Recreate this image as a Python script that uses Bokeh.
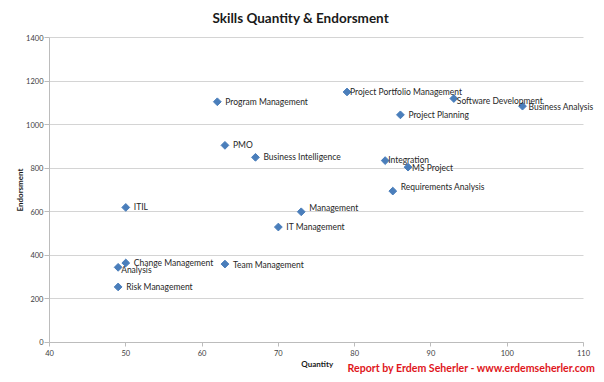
import math
from bokeh.plotting import figure
from bokeh.models import ColumnDataSource, LabelSet, Label, Title, FixedTicker, Range1d
from bokeh.core.properties import value
from bokeh.embed import file_html
from bokeh.resources import INLINE

skills = ["Program Management", "Project Portfolio Management", "Software Development",
          "Business Analysis", "Project Planning", "PMO", "Business Intelligence",
          "Integration", "MS Project", "Requirements Analysis", "ITIL", "Management",
          "IT Management", "Change Management", "Analysis", "Team Management",
          "Risk Management"]
quantity = [62, 79, 93, 102, 86, 63, 67, 84, 87, 85, 50, 73, 70, 50, 49, 63, 49]
endorsement = [1105, 1150, 1120, 1085, 1045, 905, 850, 835, 805, 695, 620, 600, 530,
               365, 345, 360, 255]
x_ticks = [40, 50, 60, 70, 80, 90, 100, 110]
y_ticks = [0, 200, 400, 600, 800, 1000, 1200, 1400]

# label placement (pixels): right shift, and downward shift
label_dx = [8, 3, 3, 6, 8, 8, 8, 3, 4, 8, 8, 8, 8, 8, 3, 8, 8]
label_dy = [0, 0, 2, 1, 0, 0, 0, -1, 1, -4, 0, -4, 0, 0, 3, 1, 0]

FONT = "Lato"
X_PAD_L = 6.42  # room left of the y axis for tick labels and axis title
X_PAD_R = 1.57  # room right of the axis end, so the last data label fits
Y_PAD_B = 146.9 # room below the x axis for the axis title and credit line
Y_PAD_T = 23.0  # room above the top tick so its label is not cut

src = ColumnDataSource(dict(
    skill=skills, quantity=quantity, endorsement=endorsement,
    dx=label_dx, dy=[-d for d in label_dy],
))

p = figure(width=596, height=374, output_backend="svg", toolbar_location=None,
           x_range=Range1d(x_ticks[0] - X_PAD_L, x_ticks[-1] + X_PAD_R),
           y_range=Range1d(y_ticks[0] - Y_PAD_B, y_ticks[-1] + Y_PAD_T),
           min_border_left=0, min_border_right=1, min_border_top=32, min_border_bottom=0)
p.outline_line_color = None
p.background_fill_color = "white"
p.border_fill_color = "white"

p.xgrid.visible = False
p.ygrid.grid_line_color = "#d4d4d4"
p.ygrid.grid_line_width = 1
try:
    p.ygrid.cross_bounds = (x_ticks[0], x_ticks[-1])
except Exception:
    pass

for ax in (p.xaxis[0], p.yaxis[0]):
    ax.axis_line_color = "#bcbcbc"
    ax.major_tick_line_color = "#bcbcbc"
    ax.minor_tick_line_color = None
    ax.major_label_text_font = FONT
    ax.major_label_text_font_size = "7.5px"
    ax.major_label_text_color = "#404040"
    ax.major_tick_in = 0
p.xaxis[0].ticker = FixedTicker(ticks=x_ticks)
p.yaxis[0].ticker = FixedTicker(ticks=y_ticks)
p.xaxis[0].bounds = (x_ticks[0], x_ticks[-1])
p.yaxis[0].bounds = (y_ticks[0], y_ticks[-1])
p.xaxis[0].fixed_location = y_ticks[0]
p.yaxis[0].fixed_location = x_ticks[0]
p.xaxis[0].major_tick_out = 4
p.yaxis[0].major_tick_out = 5
p.xaxis[0].major_label_standoff = 4
p.yaxis[0].major_label_standoff = 1

p.scatter(x="quantity", y="endorsement", source=src, marker="square",
          angle=math.pi / 4, size=5.5, fill_color="#4a7ebb", line_color="#4a7ebb")

labels = LabelSet(x="quantity", y="endorsement", text="skill", source=src,
                  x_offset="dx", y_offset="dy", text_baseline="middle",
                  text_font=value(FONT), text_font_size="8.5px", text_color="#262626")
p.add_layout(labels)

p.add_layout(Label(x=x_ticks[0], y=700, x_offset=-29, text="Endorsment", angle=math.pi / 2,
                   text_align="center", text_baseline="middle", text_font=FONT,
                   text_font_size="8px", text_font_style="bold", text_color="#1a1a1a"))
p.add_layout(Label(x=75.1, y=y_ticks[0], y_offset=-22, text="Quantity",
                   text_align="center", text_baseline="middle", text_font=FONT,
                   text_font_size="8px", text_font_style="bold", text_color="#1a1a1a"))
p.add_layout(Label(x=x_ticks[-1] + X_PAD_R, y=y_ticks[0], y_offset=-26,
                   text="Report by Erdem Seherler - www.erdemseherler.com",
                   text_align="right", text_baseline="middle", text_font=FONT,
                   text_font_size="10.6px", text_font_style="bold", text_color="#e0161b"))

p.title = Title(text="Skills Quantity & Endorsment", align="left", offset=212,
                standoff=14, text_font=FONT, text_font_size="13.5px",
                text_font_style="bold", text_color="#1a1a1a")

open("out.html", "w").write(file_html(p, INLINE))
